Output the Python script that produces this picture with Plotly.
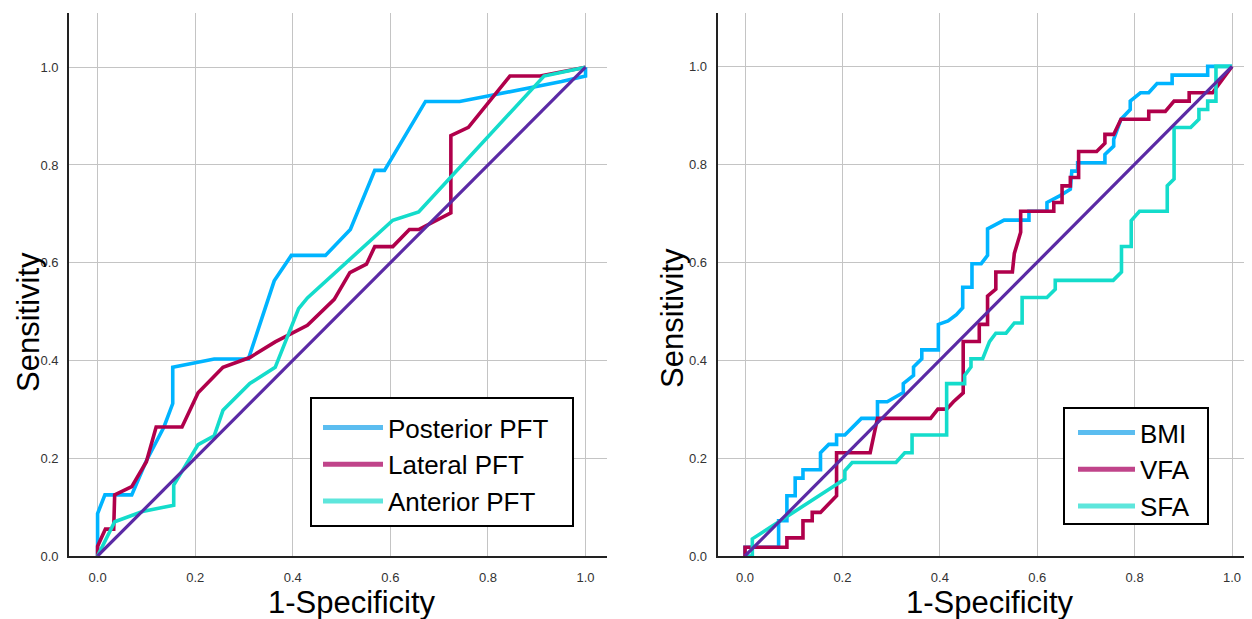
import plotly.graph_objects as go

# ---------------- data ----------------
# Left panel: PFT ROC curves
posterior_x = [0, 0, 0.015, 0.07, 0.099, 0.136, 0.154, 0.154, 0.239, 0.309, 0.362, 0.397, 0.467,
               0.518, 0.568, 0.588, 0.672, 0.742, 0.80, 0.878, 0.951, 1.0, 1.0]
posterior_y = [0, 0.087, 0.125, 0.125, 0.193, 0.264, 0.312, 0.386, 0.403, 0.403, 0.563, 0.615, 0.615,
               0.668, 0.789, 0.789, 0.930, 0.930, 0.941, 0.956, 0.971, 0.982, 1.0]

lateral_x = [0, 0, 0.016, 0.033, 0.035, 0.07, 0.10, 0.12, 0.173, 0.206, 0.257, 0.312, 0.364, 0.43,
             0.485, 0.517, 0.551, 0.568, 0.605, 0.639, 0.658, 0.724, 0.724, 0.760, 0.845, 0.907, 1.0]
lateral_y = [0, 0.02, 0.055, 0.055, 0.125, 0.142, 0.193, 0.264, 0.264, 0.334, 0.386, 0.406, 0.438, 0.472,
             0.525, 0.580, 0.597, 0.633, 0.633, 0.668, 0.668, 0.702, 0.860, 0.877, 0.982, 0.982, 1.0]

anterior_x = [0, 0.035, 0.092, 0.156, 0.156, 0.206, 0.239, 0.257, 0.312, 0.364, 0.412, 0.430,
              0.605, 0.658, 0.915, 1.0]
anterior_y = [0, 0.07, 0.091, 0.104, 0.145, 0.228, 0.246, 0.298, 0.353, 0.386, 0.506, 0.528,
              0.687, 0.704, 0.982, 1.0]

# Right panel: body composition ROC curves
bmi_x = [0, 0, 0.069, 0.069, 0.086, 0.086, 0.103, 0.103, 0.119, 0.119, 0.155, 0.155, 0.172, 0.188,
         0.188, 0.205, 0.239, 0.272, 0.272, 0.292, 0.325, 0.325, 0.346, 0.346, 0.363, 0.363, 0.397,
         0.397, 0.417, 0.434, 0.447, 0.447, 0.466, 0.466, 0.485, 0.498, 0.498, 0.532, 0.583, 0.583,
         0.62, 0.62, 0.647, 0.668, 0.671, 0.683, 0.683, 0.739, 0.739, 0.757, 0.757, 0.772, 0.791,
         0.791, 0.812, 0.829, 0.846, 0.877, 0.877, 0.95, 0.95, 1.0]
bmi_y = [0, 0.018, 0.018, 0.072, 0.072, 0.123, 0.123, 0.159, 0.159, 0.176, 0.176, 0.211, 0.228, 0.228,
         0.247, 0.247, 0.281, 0.281, 0.315, 0.315, 0.334, 0.352, 0.369, 0.386, 0.403, 0.421, 0.421,
         0.473, 0.48, 0.493, 0.507, 0.549, 0.549, 0.597, 0.597, 0.614, 0.668, 0.686, 0.686, 0.704,
         0.704, 0.722, 0.736, 0.749, 0.786, 0.786, 0.803, 0.803, 0.82, 0.837, 0.851, 0.892, 0.912,
         0.929, 0.946, 0.946, 0.965, 0.965, 0.982, 0.982, 1.0, 1.0]

vfa_x = [0, 0, 0.086, 0.086, 0.119, 0.119, 0.138, 0.138, 0.155, 0.188, 0.188, 0.257, 0.272, 0.381,
         0.396, 0.414, 0.428, 0.448, 0.448, 0.481, 0.481, 0.498, 0.498, 0.515, 0.515, 0.549, 0.553,
         0.566, 0.566, 0.634, 0.634, 0.651, 0.651, 0.668, 0.668, 0.685, 0.685, 0.722, 0.739, 0.739,
         0.757, 0.772, 0.829, 0.829, 0.863, 0.881, 0.912, 0.912, 0.96, 1.0]
vfa_y = [0, 0.018, 0.018, 0.037, 0.037, 0.072, 0.072, 0.089, 0.089, 0.123, 0.211, 0.211, 0.281, 0.281,
         0.30, 0.30, 0.315, 0.333, 0.438, 0.438, 0.473, 0.473, 0.531, 0.545, 0.58, 0.58, 0.618,
         0.661, 0.704, 0.704, 0.722, 0.722, 0.756, 0.756, 0.773, 0.773, 0.826, 0.826, 0.843, 0.861,
         0.861, 0.892, 0.892, 0.908, 0.908, 0.929, 0.929, 0.946, 0.946, 1.0]

sfa_x = [0, 0.015, 0.015, 0.192, 0.205, 0.205, 0.22, 0.31, 0.328, 0.343, 0.343, 0.414, 0.414, 0.451,
         0.451, 0.464, 0.464, 0.488, 0.502, 0.515, 0.536, 0.553, 0.569, 0.569, 0.62, 0.637, 0.637,
         0.756, 0.773, 0.773, 0.793, 0.793, 0.81, 0.867, 0.867, 0.881, 0.881, 0.915, 0.932, 0.932,
         0.95, 0.95, 0.967, 0.967, 1.0]
sfa_y = [0, 0, 0.035, 0.149, 0.157, 0.174, 0.191, 0.191, 0.211, 0.211, 0.247, 0.247, 0.352, 0.352,
         0.369, 0.386, 0.403, 0.403, 0.438, 0.455, 0.455, 0.476, 0.476, 0.528, 0.528, 0.545, 0.563,
         0.563, 0.58, 0.632, 0.632, 0.685, 0.704, 0.704, 0.756, 0.77, 0.875, 0.875, 0.892, 0.912,
         0.912, 0.929, 0.929, 1.0, 1.0]

ref_x = [0, 1]
ref_y = [0, 1]

left_names = ["Posterior PFT", "Lateral PFT", "Anterior PFT"]
right_names = ["BMI", "VFA", "SFA"]
tick_vals = [0.0, 0.2, 0.4, 0.6, 0.8, 1.0]
tick_text = ["0.0", "0.2", "0.4", "0.6", "0.8", "1.0"]
x_title = "1-Specificity"
y_title = "Sensitivity"

# ---------------- styling ----------------
C_BLUE = "#00B4FF"
C_RED = "#B0004B"
C_TURQ = "#14DCCB"
C_PURPLE = "#5B2AA5"
LEG_BLUE = "#5BBDF0"
LEG_RED = "#C0448A"
LEG_TURQ = "#5EE6DC"
FONT = "Liberation Sans, Arial, sans-serif"
LW = 3.6

# The page body has an 8px margin, so the figure is made 8px smaller and
# all screen positions are shifted by that offset.
OFF = 8
W, H = 1252 - OFF, 619 - OFF

def px(xp):
    return (xp - OFF) / W

def py(yp):
    return 1 - (yp - OFF) / H

fig = go.Figure()

def add_curve(x, y, color, xa, ya, width=LW):
    fig.add_trace(go.Scatter(x=x, y=y, mode="lines", xaxis=xa, yaxis=ya,
                             line=dict(color=color, width=width), showlegend=False,
                             hoverinfo="skip"))

def add_legend_entry(name, color, legend):
    fig.add_trace(go.Scatter(x=[None], y=[None], mode="lines", name=name, legend=legend,
                             line=dict(color=color, width=5), showlegend=True))

# left panel
add_curve(posterior_x, posterior_y, C_BLUE, "x", "y")
add_curve(lateral_x, lateral_y, C_RED, "x", "y")
add_curve(anterior_x, anterior_y, C_TURQ, "x", "y")
add_curve(ref_x, ref_y, C_PURPLE, "x", "y", 3.2)
for n, c in zip(left_names, [LEG_BLUE, LEG_RED, LEG_TURQ]):
    add_legend_entry(n, c, "legend")

# right panel
add_curve(bmi_x, bmi_y, C_BLUE, "x2", "y2")
add_curve(vfa_x, vfa_y, C_RED, "x2", "y2")
add_curve(sfa_x, sfa_y, C_TURQ, "x2", "y2")
add_curve(ref_x, ref_y, C_PURPLE, "x2", "y2", 3.2)
for n, c in zip(right_names, [LEG_BLUE, LEG_RED, LEG_TURQ]):
    add_legend_entry(n, c, "legend2")

y_dom = [py(556), py(12.5)]
axis_common = dict(showgrid=True, gridcolor="#C4C4C4", gridwidth=1, zeroline=False,
                   showline=True, linecolor="#222222", linewidth=1.6, ticks="",
                   tickvals=tick_vals, ticktext=tick_text, automargin=False,
                   tickfont=dict(family=FONT, size=13, color="#333333"))

leg_common = dict(xanchor="left", yanchor="top", borderwidth=0,
                  bgcolor="rgba(0,0,0,0)", font=dict(family=FONT, size=26, color="black"),
                  tracegroupgap=0)

fig.update_layout(
    width=W, height=H, margin=dict(l=0, r=0, t=0, b=0),
    paper_bgcolor="white", plot_bgcolor="white",
    xaxis=dict(domain=[px(69), px(607)], range=[-0.0586, 1.044], anchor="y",
               ticklabelstandoff=9, **axis_common),
    yaxis=dict(domain=y_dom, range=[0, 1.112], anchor="x", ticklabelstandoff=6, **axis_common),
    xaxis2=dict(domain=[px(717.5), 1.0], range=[-0.0565, 1.041], anchor="y2",
                ticklabelstandoff=9, **axis_common),
    yaxis2=dict(domain=y_dom, range=[0, 1.11], anchor="x2", ticklabelstandoff=6, **axis_common),
    legend=dict(x=px(318), y=py(404), itemwidth=60, **leg_common),
    legend2=dict(x=px(1073), y=py(409), itemwidth=57, **leg_common),
    showlegend=True,
)

# legend frames (white box with black border, drawn above the curves)
for (x0, y0, x1, y1) in [(311, 398, 573, 526), (1064, 408, 1208, 524)]:
    fig.add_shape(type="rect", xref="paper", yref="paper",
                  x0=px(x0), x1=px(x1), y0=py(y1), y1=py(y0),
                  line=dict(color="black", width=2), fillcolor="white", layer="above")

title_font = dict(family=FONT, size=31, color="black")
annots = [
    dict(text=x_title, x=px(352), y=py(602)),
    dict(text=x_title, x=px(990), y=py(602)),
    dict(text=y_title, x=px(28), y=py(322), textangle=-90),
    dict(text=y_title, x=px(672), y=py(318), textangle=-90),
]
for a in annots:
    fig.add_annotation(xref="paper", yref="paper", showarrow=False, font=title_font,
                       xanchor="center", yanchor="middle", **a)

fig.write_html("out.html")
